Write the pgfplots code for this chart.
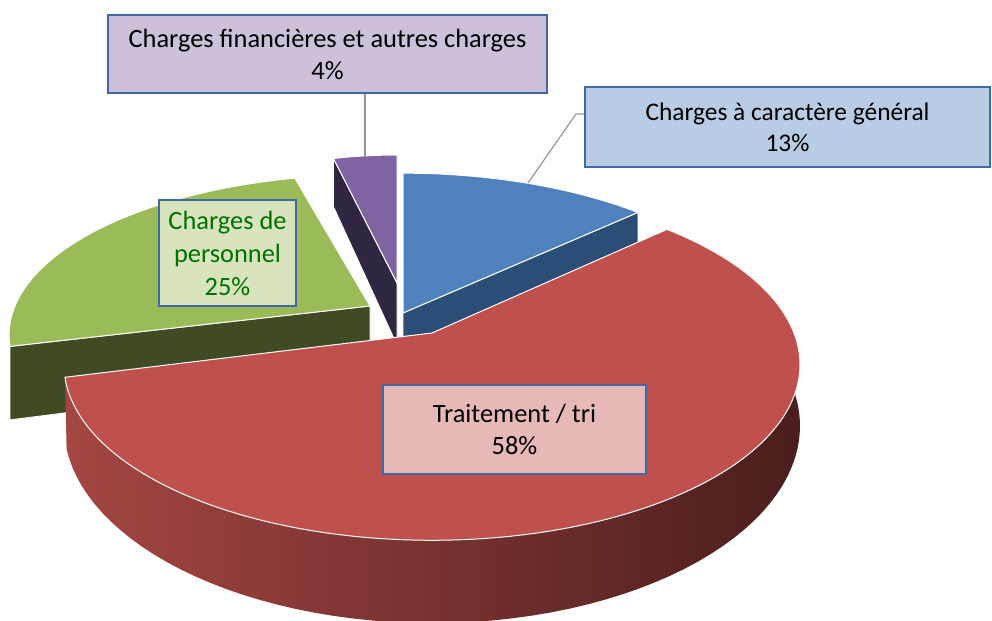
\documentclass[border=0pt]{standalone}
\usepackage{pgfplots}
\usepackage{pgfplotstable}
\pgfplotsset{compat=1.18}
\usepackage{fontspec}
\setmainfont{Carlito}

\definecolor{blueTop}{RGB}{79,129,189}
\definecolor{blueSide}{RGB}{44,77,117}
\definecolor{redTop}{RGB}{192,80,77}
\definecolor{redSideL}{RGB}{165,70,66}
\definecolor{redSideM}{RGB}{105,42,40}
\definecolor{redSideR}{RGB}{74,30,30}
\definecolor{greenTop}{RGB}{155,187,89}
\definecolor{greenSide}{RGB}{63,75,34}
\definecolor{purpleTop}{RGB}{128,100,162}
\definecolor{purpleSide}{RGB}{49,38,66}
\definecolor{boxBorder}{RGB}{65,105,165}
\definecolor{boxBlue}{RGB}{184,204,228}
\definecolor{boxRed}{RGB}{230,185,184}
\definecolor{boxGreen}{RGB}{215,228,189}
\definecolor{boxPurple}{RGB}{204,192,218}
\definecolor{labGreen}{RGB}{0,112,0}
\definecolor{leader}{RGB}{150,150,150}

\pgfplotstableread{
part value
general 13
traitement 58
personnel 25
financieres 4
}\piedata

\tikzset{declare function={
  sw(\t)=1+0.18*cos(\t);
  dw(\t)=1+0.3*cos(\t);
  SX(\t,\c,\r)=\c+\r*sin(\t)/sw(\t);
  ST(\t,\c,\r)=621-\c+\r*cos(\t)/sw(\t);
  SB(\t,\c,\r,\d)=621-\c+\r*cos(\t)/sw(\t)-\d/dw(\t);
}}

\begin{document}
\begin{tikzpicture}
\pgfplotstablegetelem{0}{value}\of\piedata \pgfmathsetmacro{\vA}{\pgfplotsretval}
\pgfplotstablegetelem{1}{value}\of\piedata \pgfmathsetmacro{\vB}{\pgfplotsretval}
\pgfplotstablegetelem{2}{value}\of\piedata \pgfmathsetmacro{\vC}{\pgfplotsretval}
\pgfplotstablegetelem{3}{value}\of\piedata \pgfmathsetmacro{\vD}{\pgfplotsretval}
\pgfmathsetmacro{\vT}{\vA+\vB+\vC+\vD}
\pgfmathsetmacro{\aB}{360*(\vA/\vT)}
\pgfmathsetmacro{\aC}{\aB+360*(\vB/\vT)}
\pgfmathsetmacro{\aD}{\aC+360*(\vC/\vT)}
\pgfmathsetmacro{\rEnd}{2*\aC-\aB}
\pgfmathsetmacro{\aCm}{\aC+0.001}
\pgfmathsetmacro{\gEnd}{2*\aD-\aC}
\pgfmathsetmacro{\aDm}{\aD+0.001}
\pgfmathsetmacro{\bX}{SX(\aB,403,362)}
\pgfmathsetmacro{\bT}{ST(\aB,313,165)}
\pgfmathsetmacro{\bB}{SB(\aB,313,165,62)}
\pgfmathsetmacro{\pX}{SX(\aD,397,300)}
\pgfmathsetmacro{\pT}{ST(\aD,283,151)}
\pgfmathsetmacro{\pB}{SB(\aD,283,151,62)}
\pgfmathsetmacro{\gX}{SX(\aC,370,355)}
\pgfmathsetmacro{\gT}{ST(\aC,306,155)}
\pgfmathsetmacro{\gB}{SB(\aC,306,155,68)}
\useasboundingbox (0,0) rectangle (496bp,310.5bp);
\begin{axis}[at={(0,0)}, anchor=south west, scale only axis,
  width=496bp, height=310.5bp, xmin=0, xmax=992, ymin=0, ymax=621,
  hide axis, clip=true]
% --- blue: Charges a caractere general
\addplot[fill=blueSide, draw=white, line width=0.4bp] coordinates {(403,308) (\bX,\bT) (\bX,\bB) (403,246)} -- cycle;
\addplot[fill=blueTop, draw=white, line width=0.5bp, domain=0:\aB, samples=50]
  ({SX(x,403,362)},{ST(x,313,165)}) -- (axis cs:403,308) -- cycle;
% --- purple: Charges financieres et autres charges
\addplot[fill=purpleSide, draw=white, line width=0.4bp] coordinates {(397,338) (\pX,\pT) (\pX,\pB) (397,276)} -- cycle;
\addplot[fill=purpleTop, draw=white, line width=0.5bp, domain=\aD:360, samples=20]
  ({SX(x,397,300)},{ST(x,283,151)}) -- (axis cs:397,338) -- cycle;
% --- green: Charges de personnel
\addplot[fill=greenSide, draw=white, line width=0.4bp, domain=\aC:\gEnd, samples=101]
  ({x<\aDm ? SX(x,370,355) : SX(2*\aD-x,370,355)},
   {x<\aDm ? ST(x,306,155) : SB(2*\aD-x,306,155,68)}) -- cycle;
\addplot[fill=greenSide, draw=white, line width=0.4bp] coordinates {(370,315) (\gX,\gT) (\gX,\gB) (370,247)} -- cycle;
\addplot[fill=greenTop, draw=white, line width=0.5bp, domain=\aC:\aD, samples=60]
  ({SX(x,370,355)},{ST(x,306,155)}) -- (axis cs:370,315) -- cycle;
% --- red: Traitement / tri
\addplot[left color=redSideL, middle color=redSideM, right color=redSideR, draw=none, domain=\aB:\rEnd, samples=161]
  ({x<\aCm ? SX(x,432,362) : SX(2*\aC-x,432,362)},
   {x<\aCm ? ST(x,333,170) : SB(2*\aC-x,333,170,58)}) -- cycle;
\addplot[fill=redTop, draw=white, line width=0.5bp, domain=\aB:\aC, samples=120]
  ({SX(x,432,362)},{ST(x,333,170)}) -- (axis cs:432,288) -- cycle;
% --- leader lines
\addplot[leader, line width=0.6bp] coordinates {(365,528) (365,464)};
\addplot[leader, line width=0.6bp] coordinates {(585,507) (576,507) (528,438)};
% --- labels
\node[draw=boxBorder, fill=boxPurple, line width=0.8bp, minimum width=219.5bp, minimum height=39bp,
  align=center, inner sep=0pt, font=\fontsize{13.2bp}{16bp}\selectfont] at (axis cs:327.5,567)
  {Charges financières et autres charges\\4\%};
\node[draw=boxBorder, fill=boxBlue, line width=0.8bp, minimum width=202.5bp, minimum height=40bp,
  align=center, inner sep=0pt, font=\fontsize{12.7bp}{15.5bp}\selectfont] at (axis cs:787.5,494)
  {Charges à caractère général\\13\%};
\node[draw=boxBorder, fill=boxGreen, line width=0.8bp, minimum width=68.5bp, minimum height=53bp,
  align=center, inner sep=0pt, text=labGreen, font=\fontsize{13.2bp}{16.5bp}\selectfont] at (axis cs:227.5,368)
  {Charges de\\personnel\\25\%};
\node[draw=boxBorder, fill=boxRed, line width=0.8bp, minimum width=131.5bp, minimum height=44.5bp,
  align=center, inner sep=0pt, font=\fontsize{13.2bp}{16bp}\selectfont] at (axis cs:514.5,191.5)
  {Traitement / tri\\58\%};
\end{axis}
\end{tikzpicture}
\end{document}
